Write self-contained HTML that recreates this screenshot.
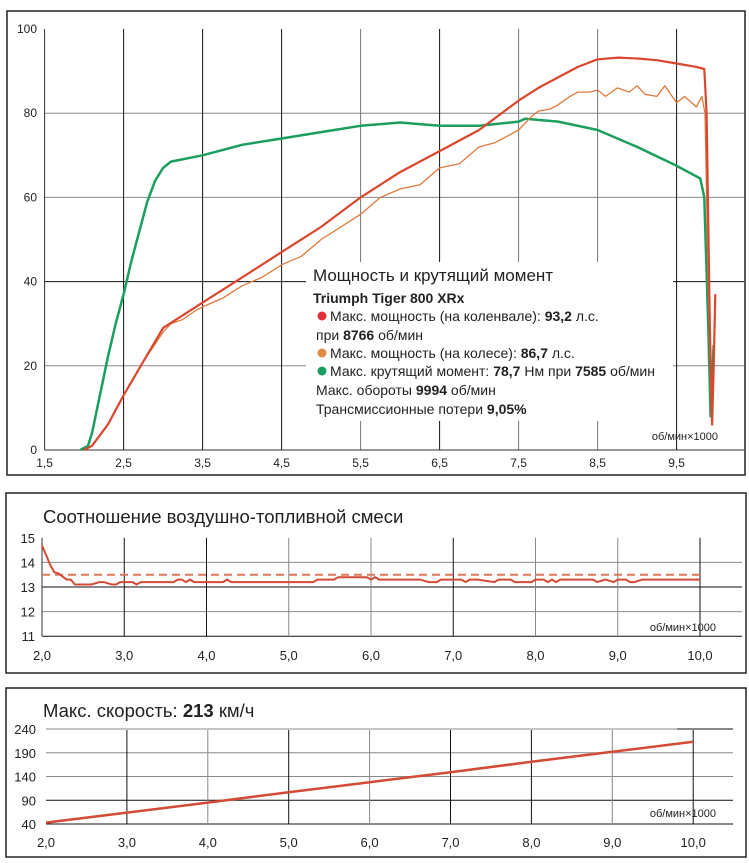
<!DOCTYPE html>
<html><head><meta charset="utf-8">
<style>
body{margin:0;background:#fff;width:749px;height:863px;overflow:hidden;font-family:"Liberation Sans",sans-serif;}
svg{position:absolute;left:0;top:0}
text{font-family:"Liberation Sans",sans-serif;fill:#222}
</style></head>
<body>
<svg id="c" width="749" height="863"></svg>
<script>
// ---- Chart 1 data: power & torque ----
const rpmCrank=[2.0,2.1,2.3,2.5,2.75,3.0,3.25,3.5,4.0,4.5,5.0,5.5,6.0,6.5,7.0,7.5,7.75,8.0,8.25,8.5,8.766,9.0,9.25,9.5,9.75,9.85,9.88,9.92,9.95,9.97,9.99];
const hpCrank=[0,1,6,13,21,29,32,35,41,47,53,60,66,71,76,83,86,88.5,91,92.8,93.2,93,92.6,91.8,91,90.5,80,30,6,20,37];
const rpmWheel=[2.0,2.1,2.3,2.5,2.75,3.0,3.1,3.25,3.4,3.5,3.75,4.0,4.25,4.5,4.75,5.0,5.25,5.5,5.75,6.0,6.25,6.5,6.75,7.0,7.2,7.4,7.5,7.65,7.75,7.9,8.0,8.15,8.25,8.4,8.5,8.6,8.75,8.9,9.0,9.1,9.25,9.35,9.5,9.6,9.75,9.82,9.86,9.9,9.94];
const hpWheel=[0,1,6,13,21,28,30,31,33,34,36,39,41,44,46,50,53,56,60,62,63,67,68,72,73,75,76,79,80.5,81,82,84,85,85,85.5,84,86,85,86.5,84.5,84,86.5,82.5,84,81.5,84,80,40,8];
const rpmTorque=[1.95,2.05,2.1,2.2,2.3,2.4,2.5,2.6,2.7,2.8,2.9,3.0,3.1,3.5,4.0,4.5,5.0,5.5,6.0,6.5,7.0,7.5,7.585,8.0,8.5,9.0,9.5,9.8,9.85,9.9,9.93,9.97];
const nmTorque=[0,1,4,13,22,30,37,45,52,59,64,67,68.5,70,72.5,74,75.5,77,77.8,77,77,78,78.7,78,76,72,67.5,64.5,60,30,8,25];
const ticksX1=["1,5","2,5","3,5","4,5","5,5","6,5","7,5","8,5","9,5"];
const ticksY1=[0,20,40,60,80,100];
// ---- Chart 2 data: AFR ----
const rpmAfr=[2.0,2.05,2.1,2.15,2.2,2.3,2.35,2.4,2.6,2.7,2.75,2.85,2.9,2.95,3.0,3.1,3.15,3.2,3.6,3.65,3.7,3.75,3.8,3.85,4.2,4.25,4.3,4.6,5.3,5.35,5.55,5.6,5.95,6.0,6.05,6.1,6.6,6.7,6.8,6.85,7.1,7.15,7.2,7.3,7.5,7.55,7.7,7.75,7.95,8.0,8.1,8.15,8.2,8.25,8.3,8.35,8.4,8.7,8.75,8.85,8.95,9.0,9.1,9.15,9.2,9.3,10.0];
const afr=[14.7,14.3,13.9,13.6,13.55,13.3,13.3,13.1,13.1,13.2,13.2,13.1,13.1,13.2,13.2,13.2,13.1,13.2,13.2,13.3,13.3,13.2,13.3,13.2,13.2,13.3,13.2,13.2,13.2,13.3,13.3,13.4,13.4,13.3,13.4,13.3,13.3,13.2,13.2,13.3,13.3,13.2,13.3,13.3,13.2,13.3,13.3,13.2,13.2,13.3,13.3,13.2,13.3,13.2,13.3,13.3,13.3,13.3,13.2,13.3,13.2,13.3,13.3,13.2,13.2,13.3,13.3];
const afrTarget=13.5;
const ticksX2=["2,0","3,0","4,0","5,0","6,0","7,0","8,0","9,0","10,0"];
const ticksY2=[11,12,13,14,15];
// ---- Chart 3 data: speed ----
const rpmSpeed=[2,3,4,5,6,7,8,9,10];
const speed=[43,64,85,107,128,149,171,192,213];
const ticksY3=[40,90,140,190,240];

const NS="http://www.w3.org/2000/svg";
const svg=document.getElementById('c');
function mk(tag,attrs,parent){const e=document.createElementNS(NS,tag);for(const k in attrs)e.setAttribute(k,attrs[k]);(parent||svg).appendChild(e);return e;}
function txt(s,x,y,size,anchor,parent,weight){const t=mk('text',{x:x,y:y,'font-size':size,'text-anchor':anchor||'start','font-weight':weight||'normal'},parent);t.textContent=s;return t;}
function path(xs,ys,sx,sy){return xs.map((v,i)=>(i?'L':'M')+sx(v).toFixed(1)+','+sy(ys[i]).toFixed(1)).join('');}

// ===== Chart 1 =====
const g1=mk('g',{});


mk('rect',{x:7,y:11,width:738,height:464,fill:'none',stroke:'#222','stroke-width':1.5},g1);
const x1=v=>44.6+(v-1.5)*79;
const y1=v=>450-v*4.21;
ticksY1.forEach(v=>{
  if(v>0&&v<100){const l=mk('line',{x1:x1(1.5),x2:744,y1:y1(v),y2:y1(v),stroke:v==40?'#111':'#888','stroke-width':1},g1);
  
  }
  const t=txt(String(v),37,y1(v)+4,12,'end',g1);
  
  
});
ticksX1.forEach((s,i)=>{
  const v=1.5+i;
  if(i>0){const l=mk('line',{x1:x1(v),x2:x1(v),y1:y1(100),y2:450,stroke:[1,2,3,5,8].includes(i)?'#111':'#777','stroke-width':1},g1);
  
  }
  const t=txt(s,x1(v),467,12,'middle',g1);
  
  
});
mk('line',{x1:x1(1.5),x2:x1(1.5),y1:y1(100),y2:450,stroke:'#333'},g1);
mk('line',{x1:x1(1.5),x2:744,y1:450,y2:450,stroke:'#333'},g1);
const u1=txt('об/мин×1000',718,440,11,'end',g1);


const pT=mk('path',{d:path(rpmTorque,nmTorque,x1,y1),fill:'none',stroke:'#1b9e5e','stroke-width':2.5,'stroke-linejoin':'round'},g1);


const pW=mk('path',{d:path(rpmWheel,hpWheel,x1,y1),fill:'none',stroke:'#df7a3c','stroke-width':1.3,'stroke-linejoin':'round'},g1);


const pC=mk('path',{d:path(rpmCrank,hpCrank,x1,y1),fill:'none',stroke:'#d9472f','stroke-width':2.2,'stroke-linejoin':'round'},g1);


// legend
const lg=mk('g',{},g1);


mk('rect',{x:306,y:262,width:367,height:159,fill:'#fff'},lg);
txt('Мощность и крутящий момент',313,281,17,'start',lg);
txt('Triumph Tiger 800 XRx',313,303,14,'start',lg,'bold');
const legRows=[['#e0303a','Макс. мощность (на коленвале): ','93,2',' л.с.',321],[null,'при ','8766',' об/мин',340],['#e08a44','Макс. мощность (на колесе): ','86,7',' л.с.',358],['#1b9e5e','Макс. крутящий момент: ','78,7',' Нм при ',376],[null,'Макс. обороты ','9994',' об/мин',395],[null,'Трансмиссионные потери ','9,05%','',414]];
legRows.forEach((r,i)=>{
  let x=316;
  if(r[0]){const c=mk('circle',{cx:322,cy:r[4]-5,r:4.5,fill:r[0]},lg);x=330;}
  const t=mk('text',{x:x,y:r[4],'font-size':14},lg);
  
  
  const a=mk('tspan',{},t);a.textContent=r[1];
  const b=mk('tspan',{'font-weight':'bold'},t);b.textContent=r[2];
  const c2=mk('tspan',{},t);c2.textContent=r[3];
  if(i==3){const d=mk('tspan',{'font-weight':'bold'},t);d.textContent='7585';const e=mk('tspan',{},t);e.textContent=' об/мин';}
});

// ===== Chart 2 =====
const g2=mk('g',{});


mk('rect',{x:6,y:493,width:740,height:180,fill:'none',stroke:'#222','stroke-width':1.5},g2);
const t2=txt('Соотношение воздушно-топливной смеси',43,523,18.5,'start',g2);


const x2=v=>42+(v-2)*82.25;
const y2=v=>587-(v-13)*24.6;
ticksY2.forEach(v=>{
  if(v<15){const l=mk('line',{x1:x2(2),x2:742,y1:y2(v),y2:y2(v),stroke:(v==13||v==11)?'#111':'#888'},g2);
  
  }
  const t=txt(String(v),35,y2(v)+5,13,'end',g2);
  
  
});
ticksX2.forEach((s,i)=>{
  const v=2+i;
  if(i>0){const l=mk('line',{x1:x2(v),x2:x2(v),y1:y2(15),y2:y2(11),stroke:[1,2,5,8].includes(i)?'#111':'#888'},g2);
  
  }
  const t=txt(s,x2(v),660,13,'middle',g2);
  
  
});
mk('line',{x1:x2(2),x2:x2(2),y1:y2(15),y2:y2(11),stroke:'#333'},g2);
const u2=txt('об/мин×1000',716,631,11,'end',g2);


const dl=mk('line',{x1:x2(2),x2:x2(10),y1:y2(afrTarget),y2:y2(afrTarget),stroke:'#d9775a','stroke-width':2,'stroke-dasharray':'8 5'},g2);


const pa=mk('path',{d:path(rpmAfr,afr,x2,y2),fill:'none',stroke:'#d44a34','stroke-width':2},g2);



// ===== Chart 3 =====
const g3=mk('g',{});


mk('rect',{x:6,y:688,width:740,height:169,fill:'none',stroke:'#222','stroke-width':1.5},g3);
const t3=mk('text',{x:43,y:717,'font-size':18.5},g3);


const s1=mk('tspan',{},t3);s1.textContent='Макс. скорость: ';
const s2=mk('tspan',{'font-weight':'bold'},t3);s2.textContent='213';
const s3=mk('tspan',{},t3);s3.textContent=' км/ч';
const x3=v=>46+(v-2)*80.9;
const y3=v=>824-(v-40)*0.475;
ticksY3.forEach(v=>{
  const l=mk('line',{x1:x3(2),x2:733,y1:y3(v),y2:y3(v),stroke:(v==90||v==40)?'#111':'#888'},g3);
  
  
  const t=txt(String(v),36,y3(v)+5,13,'end',g3);
  
  
});
mk('line',{x1:x3(9.8),x2:733,y1:y3(240),y2:y3(240),stroke:'#111'},g3);
ticksX2.forEach((s,i)=>{
  const v=2+i;
  if(i>0){const l=mk('line',{x1:x3(v),x2:x3(v),y1:y3(240)+1,y2:y3(40),stroke:[1,3,5,6,8].includes(i)?'#111':'#888'},g3);
  
  }
  const t=txt(s,x3(v),847,13,'middle',g3);
  
  
});
const u3=txt('об/мин×1000',716,817,11,'end',g3);


const ps=mk('path',{d:path(rpmSpeed,speed,x3,y3),fill:'none',stroke:'#d44a34','stroke-width':2.5},g3);


</script>
</body></html>
